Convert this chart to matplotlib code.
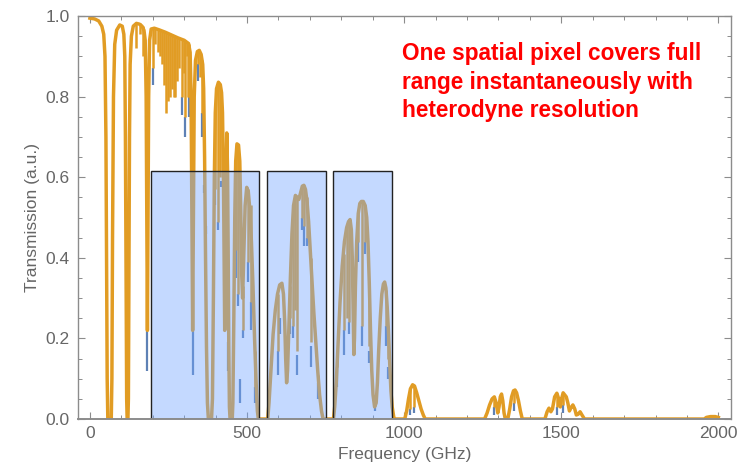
import numpy as np
import matplotlib
matplotlib.use("Agg")
import matplotlib.pyplot as plt
import matplotlib.patches as patches
from matplotlib.ticker import MultipleLocator

plt.rcParams['font.family'] = ['Liberation Sans', 'DejaVu Sans']

# main transmission trace (GHz, transmission)
freq = [0, 15, 28, 38, 44, 48, 51, 53, 55, 57, 68, 70, 72, 75, 79, 85, 95, 103,
        108, 111, 113, 115, 117, 118.5, 121, 122.5, 124, 126, 128, 132, 138, 148,
        158, 166, 172, 176, 179, 181, 183, 185, 187, 190, 195, 205, 220, 240, 260,
        280, 300, 314, 319, 322, 324.5, 327, 329.5, 332, 336, 342, 348, 354, 359,
        362, 365, 368, 371, 374, 377, 387, 390, 393, 396, 399, 403, 409, 415, 419,
        422, 425, 427, 429, 431, 433, 435.5, 438, 440, 442, 444, 446, 453, 455,
        458, 461, 464, 468, 473, 477, 480, 483, 486, 490, 494, 499, 504, 509, 514,
        519, 524, 529, 533, 536, 566, 570, 576, 583, 590, 597, 604, 611, 616, 620,
        623, 626, 629, 633, 638, 643, 648, 654, 660, 665, 670, 676, 681, 686, 691,
        696, 701, 707, 713, 719, 725, 731, 737, 742, 775, 779, 784, 790, 796, 803,
        810, 817, 823, 828, 832, 835, 838, 840, 842, 845, 849, 854, 859, 864, 870,
        876, 881, 885, 889, 893, 897, 901, 906, 911, 915, 919, 924, 929, 934, 938,
        942, 946, 950, 954, 958, 962, 967, 970, 1002, 1008, 1014, 1020, 1027, 1033,
        1040, 1047, 1054, 1061, 1067, 1256, 1264, 1272, 1280, 1287, 1293, 1298,
        1302, 1306, 1310, 1314, 1318, 1322, 1330, 1336, 1342, 1348, 1353, 1358,
        1364, 1370, 1376, 1448, 1455, 1461, 1467, 1472, 1479, 1486, 1492, 1497,
        1501, 1506, 1511, 1516, 1521, 1526, 1531, 1537, 1543, 1548, 1554, 1560,
        1566, 1574, 1955, 1962, 1975, 1990, 2000]
trans = [0.995, 0.993, 0.988, 0.975, 0.955, 0.90, 0.70, 0.40, 0.10, 0.0, 0.0, 0.10,
         0.45, 0.80, 0.93, 0.965, 0.978, 0.975, 0.955, 0.90, 0.70, 0.35, 0.05, 0.0,
         0.0, 0.05, 0.35, 0.70, 0.88, 0.95, 0.975, 0.982, 0.98, 0.975, 0.965, 0.94,
         0.80, 0.50, 0.22, 0.50, 0.80, 0.94, 0.968, 0.97, 0.966, 0.96, 0.953, 0.946,
         0.94, 0.932, 0.91, 0.80, 0.50, 0.22, 0.50, 0.80, 0.89, 0.912, 0.915, 0.905,
         0.88, 0.82, 0.65, 0.40, 0.18, 0.04, 0.0, 0.0, 0.05, 0.30, 0.60, 0.76, 0.82,
         0.836, 0.83, 0.81, 0.76, 0.60, 0.40, 0.22, 0.35, 0.58, 0.71, 0.62, 0.42,
         0.18, 0.03, 0.0, 0.0, 0.04, 0.25, 0.50, 0.64, 0.683, 0.68, 0.64, 0.52, 0.36,
         0.30, 0.42, 0.53, 0.575, 0.565, 0.52, 0.44, 0.33, 0.20, 0.09, 0.02, 0.0,
         0.0, 0.04, 0.12, 0.21, 0.27, 0.31, 0.333, 0.337, 0.31, 0.24, 0.15, 0.09,
         0.12, 0.22, 0.35, 0.46, 0.53, 0.555, 0.55, 0.545, 0.56, 0.578, 0.58, 0.57,
         0.54, 0.49, 0.42, 0.34, 0.26, 0.19, 0.12, 0.06, 0.02, 0.0, 0.0, 0.03, 0.09,
         0.19, 0.29, 0.38, 0.44, 0.475, 0.49, 0.495, 0.47, 0.40, 0.26, 0.16, 0.20,
         0.33, 0.44, 0.51, 0.535, 0.54, 0.54, 0.53, 0.50, 0.44, 0.34, 0.22, 0.12,
         0.06, 0.03, 0.04, 0.09, 0.17, 0.25, 0.31, 0.335, 0.34, 0.325, 0.28, 0.22,
         0.14, 0.07, 0.03, 0.005, 0.0, 0.0, 0.02, 0.05, 0.075, 0.085, 0.082, 0.065,
         0.045, 0.025, 0.01, 0.0, 0.0, 0.015, 0.035, 0.05, 0.055, 0.04, 0.015, 0.03,
         0.055, 0.062, 0.045, 0.015, 0.0, 0.0, 0.025, 0.055, 0.07, 0.072, 0.065,
         0.045, 0.02, 0.0, 0.0, 0.018, 0.027, 0.018, 0.025, 0.055, 0.064, 0.05, 0.03,
         0.05, 0.065, 0.06, 0.055, 0.04, 0.02, 0.028, 0.035, 0.025, 0.01, 0.012,
         0.018, 0.01, 0.0, 0.0, 0.004, 0.006, 0.006, 0.004]

# narrow absorption lines in the orange trace: position, top, bottom
line_f = [146, 159, 169, 201, 208, 216, 223, 230, 236, 242, 249, 255, 262, 267,
          272, 277, 285, 292, 298, 303, 308, 313, 316, 345, 351, 357, 398, 408,
          414, 465, 472, 487, 503, 512, 526, 599, 637, 646, 652, 659, 675, 682,
          690, 704, 726, 787, 808, 818, 825, 854, 866, 876, 889, 943, 949, 1020,
          1030, 1287, 1350, 1486, 1506]
line_top = [0.98, 0.982, 0.975, 0.969, 0.97, 0.967, 0.965, 0.963, 0.962, 0.96,
            0.957, 0.955, 0.952, 0.95, 0.948, 0.946, 0.944, 0.942, 0.94, 0.938,
            0.936, 0.933, 0.93, 0.912, 0.91, 0.89, 0.78, 0.835, 0.83, 0.66, 0.68,
            0.33, 0.57, 0.53, 0.17, 0.31, 0.33, 0.52, 0.55, 0.55, 0.575, 0.58,
            0.55, 0.40, 0.11, 0.15, 0.41, 0.48, 0.49, 0.51, 0.54, 0.53, 0.34,
            0.32, 0.23, 0.075, 0.085, 0.055, 0.072, 0.064, 0.065]
line_bot = [0.92, 0.955, 0.90, 0.87, 0.93, 0.91, 0.90, 0.88, 0.83, 0.76, 0.79,
            0.80, 0.82, 0.80, 0.80, 0.84, 0.87, 0.80, 0.86, 0.75, 0.90, 0.80, 0.80,
            0.88, 0.85, 0.76, 0.57, 0.49, 0.60, 0.42, 0.31, 0.22, 0.39, 0.29, 0.08,
            0.17, 0.25, 0.23, 0.27, 0.17, 0.50, 0.48, 0.45, 0.19, 0.09, 0.13, 0.22,
            0.25, 0.24, 0.44, 0.23, 0.44, 0.18, 0.23, 0.15, 0.025, 0.03, 0.03,
            0.04, 0.03, 0.035]

# the blue (second) spectrum only shows where it dips below the orange one
blue_f = [183, 327, 201, 292, 303, 316, 345, 357, 363, 369, 398, 408, 416, 440,
          465, 472, 478, 487, 503, 512, 526, 599, 605, 637, 646, 659, 675, 682,
          690, 704, 726, 787, 808, 825, 854, 866, 876, 889, 908, 943, 949, 1020,
          1030, 1287, 1350, 1486, 1506]
blue_top = [0.22, 0.22, 0.87, 0.80, 0.75, 0.80, 0.88, 0.76, 0.58, 0.48, 0.57,
            0.49, 0.59, 0.19, 0.42, 0.31, 0.10, 0.22, 0.39, 0.29, 0.08, 0.17,
            0.25, 0.25, 0.23, 0.16, 0.50, 0.48, 0.45, 0.18, 0.09, 0.13, 0.22,
            0.24, 0.44, 0.23, 0.44, 0.17, 0.04, 0.23, 0.13, 0.025, 0.03, 0.03,
            0.04, 0.03, 0.035]
blue_bot = [0.12, 0.11, 0.83, 0.755, 0.70, 0.75, 0.84, 0.70, 0.56, 0.46, 0.53,
            0.47, 0.575, 0.12, 0.35, 0.28, 0.04, 0.20, 0.34, 0.22, 0.04, 0.11,
            0.21, 0.21, 0.20, 0.11, 0.47, 0.43, 0.43, 0.13, 0.05, 0.08, 0.16,
            0.21, 0.39, 0.18, 0.41, 0.14, 0.02, 0.18, 0.10, 0.01, 0.015, 0.01,
            0.02, 0.01, 0.015]

# detector bands (GHz) and their height
band_lo = [195, 565, 775]
band_hi = [538, 752, 962]
band_top = 0.615

ORANGE = '#E19C24'
BLUE = '#5E81B5'
GREY = '#8c8c8c'
TXT = '#666666'

fig = plt.figure(figsize=(7.54, 4.74), dpi=100)
ax = fig.add_axes([0.1034, 0.116, 0.866, 0.850])

ax.vlines(blue_f, blue_bot, blue_top, color=BLUE, lw=1.6, zorder=2)
ax.plot(freq, trans, color=ORANGE, lw=2.5, zorder=3, solid_joinstyle='round')
ax.vlines(line_f, line_bot, line_top, color=ORANGE, lw=1.8, zorder=3)

for lo, hi in zip(band_lo, band_hi):
    ax.add_patch(patches.Rectangle((lo, 0), hi - lo, band_top,
                                   facecolor=(0.45, 0.65, 1.0), alpha=0.42,
                                   edgecolor='none', zorder=4))
    ax.add_patch(patches.Rectangle((lo, 0), hi - lo, band_top,
                                   facecolor='none', edgecolor='#222222',
                                   lw=1.0, zorder=5))

ax.set_xlim(-38, 2040)
ax.set_ylim(0, 1.0)
ax.xaxis.set_major_locator(MultipleLocator(500))
ax.xaxis.set_minor_locator(MultipleLocator(100))
ax.yaxis.set_major_locator(MultipleLocator(0.2))
ax.yaxis.set_minor_locator(MultipleLocator(0.05))
ax.set_yticks([0.0, 0.2, 0.4, 0.6, 0.8, 1.0])
ax.set_yticklabels(['0.0', '0.2', '0.4', '0.6', '0.8', '1.0'])
ax.tick_params(which='both', direction='in', top=True, right=True,
               color=GREY, labelcolor=TXT, labelsize=12.5)
ax.tick_params(which='major', length=5, width=0.8)
ax.tick_params(which='minor', length=2.8, width=0.7)
ax.tick_params(axis='x', pad=5)
ax.tick_params(axis='y', pad=6)
for s in ax.spines.values():
    s.set_color(GREY)
    s.set_linewidth(1.0)
    s.set_zorder(6)
ax.spines['bottom'].set_linewidth(1.4)

ax.set_xlabel('Frequency (GHz)', fontsize=12.5, color=TXT, labelpad=4)
ax.set_ylabel('Transmission (a.u.)', fontsize=12.5, color=TXT, labelpad=4)

ax.text(0.496, 0.935,
        'One spatial pixel covers full\nrange instantaneously with\nheterodyne resolution',
        transform=ax.transAxes, ha='left', va='top', color='#ff0000',
        fontsize=16.3, fontweight='bold', linespacing=1.3, zorder=7)

fig.savefig('out.png', dpi=100)
